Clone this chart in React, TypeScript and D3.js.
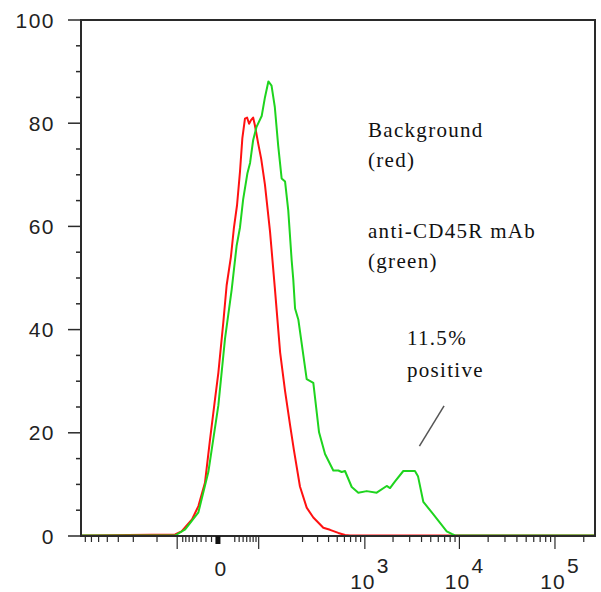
import React from "react";
import * as d3 from "d3";

// histogram values: [fluorescence intensity, % of max]
const redSeries = [
  [-780, 0], [-54, 0.2], [-42, 0.8], [-26, 3.1], [-18, 5.7], [-11, 10.2],
  [-6.3, 18.6], [-2.2, 26.4], [0.3, 31.5], [4.1, 41.2], [7, 48.5], [11, 54],
  [14, 59.5], [17.5, 64], [21, 70.5], [24, 77], [27.5, 80.8], [30.5, 81],
  [33.5, 79.8], [36.5, 80.5], [40, 81], [43, 79.5], [49, 76], [55, 73],
  [63, 68], [75, 59], [88, 48], [104, 35.5], [121, 28], [140, 21.5],
  [157, 16.5], [186, 9.5], [224, 5.4], [268, 3.5], [349, 1.5], [415, 1.1],
  [514, 0.5], [609, 0.1], [690, 0], [262144, 0],
];

const greenSeries = [
  [-780, 0], [-54, 0], [-36, 1.2], [-18, 4.5], [-7.8, 12.3], [0.3, 25.2],
  [5.6, 38.2], [11.8, 47.7], [17, 56.1], [21, 59.7], [25, 65.1], [31, 70.2],
  [35, 72.2], [40, 76.6], [46, 79.2], [56, 81.3], [63, 84.9], [71, 88],
  [79, 87.2], [88, 83], [98, 75.5], [109, 69.2], [121, 68.6], [133, 63],
  [147, 53.3], [154, 49.6], [162, 44], [178, 41.8], [224, 30.3], [268, 29.6],
  [312, 20], [365, 15.8], [452, 12.6], [514, 12.6], [560, 12.3], [609, 12.5],
  [721, 9.4], [850, 8.3], [1047, 8.6], [1340, 8.3], [1713, 9.6], [1857, 9.2],
  [2100, 10.5], [2570, 12.5], [3410, 12.5], [3670, 11.5], [4180, 6.5],
  [5280, 4.2], [7360, 0.8], [8300, 0.3], [9000, 0], [262144, 0],
];

const yTicks = [0, 20, 40, 60, 80, 100];
const yMinorTicks = [5, 10, 15, 25, 30, 35, 45, 50, 55, 65, 70, 75, 85, 90, 95];

const xLongTicks = [-50, 50, 1000, 10000, 100000];
const xShortTicks = [
  -700, -600, -500, -400, -300, -200, -100,
  -40, -35, -30, -25, -20, -15, -10, -5,
  15, 20, 25, 30, 35, 40, 45,
  200, 300, 400, 500, 600, 700, 800, 900,
  2000, 3000, 4000, 5000, 6000, 7000, 8000, 9000,
  20000, 30000, 40000, 50000, 60000, 70000, 80000, 90000,
  200000,
];
const xPowerTicks = [1000, 10000, 100000];
const xPowerExps = ["3", "4", "5"];

const legendTop = ["Background", "(red)"];
const legendBottom = ["anti-CD45R mAb", "(green)"];
const positiveNote = ["11.5%", "positive"];
// pointer line, in data units
const pointer = [[6900, 25.2], [3800, 17.4]];

const W = 601;
const H = 592;
const margin = { top: 20, right: 6, bottom: 56, left: 81 };

export default function App() {
  const x = d3
    .scaleSymlog()
    .constant(30)
    .domain([-780, 262144])
    .range([margin.left, W - margin.right]);
  const y = d3
    .scaleLinear()
    .domain([0, 100])
    .range([H - margin.bottom, margin.top]);

  const line = d3
    .line<number[]>()
    .x((d) => x(d[0]))
    .y((d) => y(d[1]));

  const axisColor = "#2a2a2a";
  const sans = "'Liberation Sans', Arial, sans-serif";
  const serif = "'Liberation Serif', 'Times New Roman', serif";
  const bottom = y(0);

  return (
    <svg
      width={W}
      height={H}
      style={{ position: "absolute", left: 0, top: 0, background: "#fff" }}
    >
      {/* curves, the zero runs sit under the axis line */}
      <g transform="translate(0,-0.5)" fill="none" strokeWidth={2} strokeLinejoin="round">
        <path d={line(redSeries) ?? ""} stroke="#ff1111" />
        <path d={line(greenSeries) ?? ""} stroke="#1ed41e" />
      </g>

      {/* frame */}
      <rect
        x={margin.left}
        y={margin.top}
        width={W - margin.right - margin.left}
        height={bottom - margin.top}
        fill="none"
        stroke={axisColor}
        strokeWidth={2}
      />

      {/* y axis */}
      <g stroke={axisColor} strokeWidth={1.5}>
        {yTicks.map((t) => (
          <line key={t} x1={margin.left - 13} x2={margin.left} y1={y(t)} y2={y(t)} />
        ))}
        {yMinorTicks.map((t) => (
          <line key={t} x1={margin.left - 5} x2={margin.left} y1={y(t)} y2={y(t)} />
        ))}
      </g>
      <g fontFamily={sans} fontSize={21} fill="#222" textAnchor="end" letterSpacing={1.5}>
        {yTicks.map((t) => (
          <text key={t} x={55} y={y(t) + 7.5}>
            {t}
          </text>
        ))}
      </g>

      {/* x axis */}
      <g stroke={axisColor} strokeWidth={1.2}>
        {xLongTicks.map((t) => (
          <line key={t} x1={x(t)} x2={x(t)} y1={bottom} y2={bottom + 13} />
        ))}
        {xShortTicks.map((t) => (
          <line key={t} x1={x(t)} x2={x(t)} y1={bottom} y2={bottom + 6} />
        ))}
      </g>
      <rect x={x(0) - 2.5} y={bottom} width={5} height={8} fill="#111" />
      <g fontFamily={sans} fontSize={21} fill="#222" letterSpacing={1}>
        <text x={x(0) + 3} y={bottom + 40} textAnchor="middle">
          0
        </text>
        {xPowerTicks.map((t, i) => (
          <g key={t}>
            <text x={x(t) - 2} y={bottom + 53} textAnchor="middle">
              10
            </text>
            <text x={x(t) + 12} y={bottom + 37}>
              {xPowerExps[i]}
            </text>
          </g>
        ))}
      </g>

      {/* annotations */}
      <g fontFamily={serif} fontSize={21} fill="#111" letterSpacing={1.3}>
        {legendTop.map((s, i) => (
          <text key={s} x={368} y={137 + i * 30}>
            {s}
          </text>
        ))}
        {legendBottom.map((s, i) => (
          <text key={s} x={368} y={238 + i * 30}>
            {s}
          </text>
        ))}
        {positiveNote.map((s, i) => (
          <text key={s} x={407} y={345 + i * 32}>
            {s}
          </text>
        ))}
      </g>
      <line
        x1={x(pointer[0][0])}
        y1={y(pointer[0][1])}
        x2={x(pointer[1][0])}
        y2={y(pointer[1][1])}
        stroke="#555"
        strokeWidth={1.5}
      />
    </svg>
  );
}
